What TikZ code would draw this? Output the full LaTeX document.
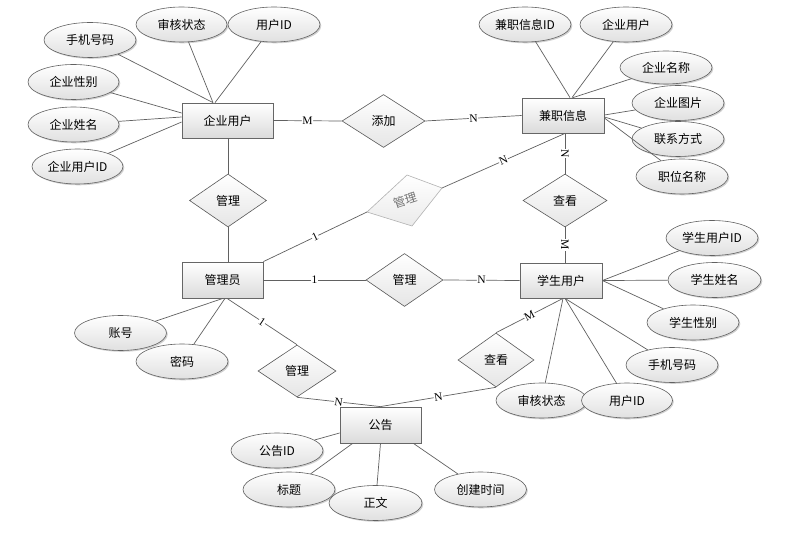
\documentclass[tikz,border=0pt]{standalone}
\usepackage{fontspec}
\newfontfamily\cjk{Noto Sans CJK SC}
\newfontfamily\cardfont{Liberation Serif}
\usetikzlibrary{shapes.geometric,shadows}
\begin{document}
\begin{tikzpicture}[x=1pt,y=-1pt,
  every node/.style={font=\cjk\fontsize{12}{14}\selectfont},
  myshadow/.style={drop shadow={shadow xshift=1.3pt,shadow yshift=-1.3pt,opacity=0.3,fill=black!60}},
  ent/.style={rectangle, draw=black!60, line width=0.8pt, top color=white, bottom color=black!14,
    minimum width=81pt, minimum height=35pt, inner sep=0pt, myshadow},
  attr/.style={ellipse, draw=black!62, line width=0.6pt, top color=white, bottom color=black!12,
    minimum width=92pt, minimum height=35pt, inner sep=0pt, myshadow},
  rel/.style={diamond, draw=black!65, line width=0.6pt, top color=white, bottom color=black!10,
    minimum width=77pt, minimum height=53pt, inner sep=0pt},
  lnk/.style={draw=black!62, line width=0.7pt},
  card/.style={font=\cardfont\fontsize{11.5}{11.5}\selectfont, fill=white, inner sep=0.5pt, sloped, pos=0.5}
]
\fill[white] (0,0) rectangle (798,534);
\useasboundingbox (0,0) rectangle (798,534);

% ---- entities
\node[ent, minimum width=91pt] (qy) at (227.5,120.5) {企业用户};
\node[ent, minimum width=82pt] (jz) at (563,115.5) {兼职信息};
\node[ent, minimum height=36pt] (gly) at (222.5,280) {管理员};
\node[ent, minimum width=82pt] (xs) at (561,280.5) {学生用户};
\node[ent, minimum height=36pt] (gg) at (380.5,425) {公告};

% ---- relationships
\node[rel, minimum width=83pt] (tj) at (383.5,121) {添加};
\node[rel] (gl1) at (228,200.5) {管理};
\node[rel, minimum width=84pt] (ck1) at (565,200.5) {查看};
\node[rel] (gl3) at (404.5,280) {管理};
\node[rel, minimum width=78pt, minimum height=52pt] (gl4) at (297,371) {管理};
\node[rel, minimum width=76pt, minimum height=54pt] (ck2) at (496,360) {查看};

% gray skewed diamond
\coordinate (g2w) at (367,212);
\coordinate (g2n) at (407,175);
\coordinate (g2e) at (442,188);
\coordinate (g2s) at (412,226);
\shade[top color=white, bottom color=black!8, draw=black!30, line width=0.6pt]
  (g2w) -- (g2n) -- (g2e) -- (g2s) -- cycle;
\node[rotate=18, text=black!55, inner sep=0pt] (gl2) at (405,200) {管理};

% ---- relationship connectors
\coordinate (jzb) at (ck1.north |- jz.south);
\draw[lnk] (qy.east) -- node[card]{M} (tj.west);
\draw[lnk] (tj.east) -- node[card]{N} (jz.west);
\draw[lnk] (jzb) -- node[card]{N} (ck1.north);
\draw[lnk] (ck1.south) -- node[card]{M} (ck1.south |- xs.north);
\draw[lnk] (gl1.north) -- (gl1.north |- qy.south);
\draw[lnk] (gl1.south) -- (gl1.south |- gly.north);
\draw[lnk] (gly.north east) -- node[card]{1} (g2w);
\draw[lnk] (g2e) -- node[card]{N} (jzb);
\draw[lnk] (gly.east) -- node[card]{1} (gl3.west);
\draw[lnk] (gl3.east) -- node[card]{N} (xs.west);
\draw[lnk] ([xshift=4.5pt]gly.south) -- node[card]{1} (gl4.north);
\draw[lnk] (gl4.south) -- node[card]{N} (gg.north);
\draw[lnk] (ck2.south) -- node[card]{N} (gg.north);
\draw[lnk] ([xshift=2pt]xs.south) -- node[card]{M} (ck2.north);

% ---- attributes of 企业用户
\node[attr] (a1) at (90,40) {手机号码};
\node[attr, minimum width=91pt] (a2) at (181.5,24.5) {审核状态};
\node[attr] (a3) at (274,24.5) {用户ID};
\node[attr, minimum width=91pt] (a4) at (73.5,82) {企业性别};
\node[attr, minimum width=91pt] (a5) at (73.5,124.5) {企业姓名};
\node[attr, minimum width=91pt] (a6) at (77.5,166.5) {企业用户ID};
\draw[lnk] (a1) -- ([xshift=-14.5pt]qy.north);
\draw[lnk] (a2) -- ([xshift=-14.5pt]qy.north);
\draw[lnk] (a3) -- ([xshift=-12.5pt]qy.north);
\draw[lnk] (a4) -- ([yshift=7.5pt]qy.west);
\draw[lnk] (a5) -- ([yshift=3.5pt]qy.west);
\draw[lnk] (a6) -- ([yshift=-1.5pt]qy.west);

% ---- attributes of 兼职信息
\node[attr] (b1) at (525,24.5) {兼职信息ID};
\node[attr] (b2) at (626,24.5) {企业用户};
\node[attr, minimum height=33pt] (b3) at (666,67.5) {企业名称};
\node[attr] (b4) at (678,103) {企业图片};
\node[attr] (b5) at (678,139) {联系方式};
\node[attr] (b6) at (682,176.5) {职位名称};
\draw[lnk] (b1) -- ([xshift=7pt]jz.north);
\draw[lnk] (b2) -- ([xshift=9pt]jz.north);
\draw[lnk] (b3) -- ([xshift=10pt]jz.north);
\draw[lnk] (b4) -- ([yshift=0.5pt]jz.east);
\draw[lnk] (b5) -- ([yshift=-1.5pt]jz.east);
\draw[lnk] (b6) -- ([yshift=-2.5pt]jz.east);

% ---- attributes of 学生用户
\node[attr] (c1) at (712,238) {学生用户ID};
\node[attr, minimum width=93pt] (c2) at (714.5,280) {学生姓名};
\node[attr] (c3) at (693,322.5) {学生性别};
\node[attr] (c4) at (672,365) {手机号码};
\node[attr, minimum width=91pt] (c6) at (541.5,400.5) {审核状态};
\node[attr, minimum width=91pt] (c5) at (627,400.5) {用户ID};
\draw[lnk] (c1) -- (xs.east);
\draw[lnk] (c2) -- (xs.east);
\draw[lnk] (c3) -- (xs.east);
\draw[lnk] (c4) -- ([xshift=4pt]xs.south);
\draw[lnk] (c5) -- ([xshift=4pt]xs.south);
\draw[lnk] (c6) -- ([xshift=2pt]xs.south);

% ---- attributes of 管理员
\node[attr] (d1) at (120.5,333) {账号};
\node[attr] (d2) at (182,361.5) {密码};
\draw[lnk] (d1) -- ([xshift=0.5pt]gly.south);
\draw[lnk] (d2) -- ([xshift=2.5pt]gly.south);

% ---- attributes of 公告
\node[attr] (e1) at (277,450.5) {公告ID};
\node[attr] (e2) at (289,489.5) {标题};
\node[attr, minimum width=93pt] (e3) at (375.5,503) {正文};
\node[attr] (e4) at (480.5,489.5) {创建时间};
\draw[lnk] (e1) -- ([yshift=-8pt]gg.west);
\draw[lnk] (e2) -- ([xshift=13pt]gg.south west);
\draw[lnk] (e3) -- (gg.south);
\draw[lnk] (e4) -- ([xshift=-8pt]gg.south east);
\end{tikzpicture}
\end{document}
